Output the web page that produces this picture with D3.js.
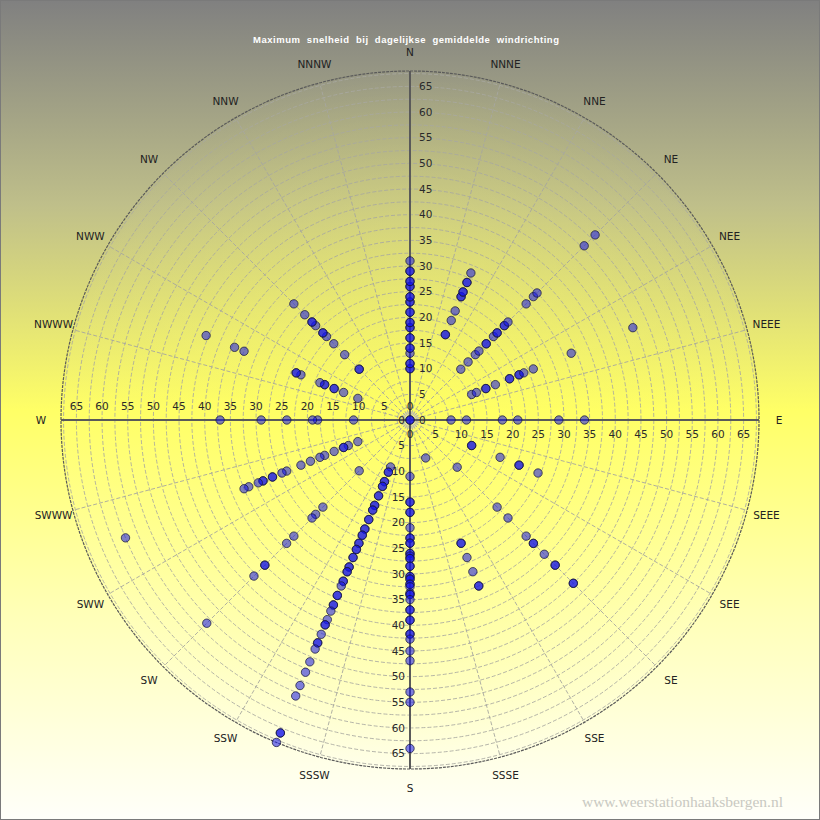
<!DOCTYPE html>
<html><head><meta charset="utf-8">
<script src="https://cdn.jsdelivr.net/npm/d3@7"></script>
<style>html,body{margin:0;padding:0;background:#fff}svg{display:block}</style>
</head><body>
<svg id="chart" width="820" height="820"></svg>
<script>
const title = "Maximum  snelheid  bij  dagelijkse  gemiddelde  windrichting";
const watermark = "www.weerstationhaaksbergen.nl";
const compassLabels = ["N","NNNE","NNE","NE","NEE","NEEE","E","SEEE","SEE","SE","SSE","SSSE","S","SSSW","SSW","SW","SWW","SWWW","W","NWWW","NWW","NW","NNW","NNNW"];
const dataDirections = ["N","NNE","NE","ENE","E","ESE","SE","SSE","S","SSW","SW","WSW","W","WNW","NW","NNW"];
const tickValues = [0,5,10,15,20,25,30,35,40,45,50,55,60,65];
const maxSpeed = 68;

const speedN   = [0, 10, 10, 11, 11, 13, 14, 14, 16, 16, 18, 18, 19, 19, 21, 21, 23, 23, 24, 24, 26, 26, 27, 27, 29, 29, 31];
const speedNNE = [18, 18, 21, 23, 26, 26, 27, 27, 29, 29, 31];
const speedNE  = [14, 16, 18, 19, 21, 21, 23, 24, 24, 26, 26, 27, 32, 34, 35, 48, 51];
const speedENE = [13, 14, 16, 16, 18, 21, 21, 23, 23, 24, 26, 34, 47];
const speedE   = [0, 8, 11, 18, 21, 29, 34];
const speedESE = [13, 13, 19, 23, 23, 27];
const speedSE  = [13, 24, 27, 32, 34, 34, 37, 40, 40, 45, 45];
const speedSSE = [8, 26, 26, 29, 32, 35, 35];
const speedS   = [11, 16, 16, 18, 18, 21, 23, 23, 24, 24, 26, 26, 26.5, 27, 27, 28.5, 28.5, 30.5, 30.5, 31, 31, 32, 32, 32.5, 33.7, 34, 34, 35, 37, 37, 39, 39, 41.7, 41.7, 42.7, 45, 46.9, 53, 55, 64];
const speedSSW = [9.9, 11, 11, 13, 13, 14, 14, 16, 16, 18, 18, 19, 19, 21, 21, 23, 23, 24.3, 24.3, 26, 26, 27.3, 27.3, 29, 29, 31, 31, 32, 32, 34, 34, 35, 37, 37, 39, 39, 40.3, 42.1, 43.2, 43.2, 45.2, 47, 47, 48.3, 51, 53.2, 56, 58.2, 66, 66, 68];
const speedSW  = [14, 24, 26, 27, 32, 34, 40, 40, 43, 56];
const speedWSW = [11, 13, 14, 14, 16, 18, 19, 21, 23, 26, 27, 29, 29, 31, 31, 32, 34, 35, 60];
const speedW   = [11, 18, 19, 24, 29, 37];
const speedWNW = [11, 14, 16, 16, 18, 18, 19, 23, 24, 24, 35, 37, 43];
const speedNW  = [14, 14, 18, 21, 23, 24, 24, 26, 27, 27, 29, 32];
const speedNNW = [];

const seriesByDirection = [speedN, speedNNE, speedNE, speedENE, speedE, speedESE, speedSE, speedSSE,
  speedS, speedSSW, speedSW, speedWSW, speedW, speedWNW, speedNW, speedNNW];

const W = 820, H = 820, cx = 410, cy = 420, R = 349;
const svg = d3.select("#chart");
const defs = svg.append("defs");
const bg = defs.append("linearGradient").attr("id","bg").attr("x1",0).attr("y1",0).attr("x2",0).attr("y2",1);
bg.append("stop").attr("offset","0%").attr("stop-color","#808080");
bg.append("stop").attr("offset","25%").attr("stop-color","#bfbf8a");
bg.append("stop").attr("offset","50%").attr("stop-color","#ffff66");
bg.append("stop").attr("offset","75%").attr("stop-color","#ffffb8");
bg.append("stop").attr("offset","100%").attr("stop-color","#fffffa");
const glow = defs.append("radialGradient").attr("id","glow");
glow.append("stop").attr("offset","0%").attr("stop-color","#ffff60").attr("stop-opacity",0.55);
glow.append("stop").attr("offset","100%").attr("stop-color","#ffff60").attr("stop-opacity",0);

svg.append("rect").attr("width",W).attr("height",H).attr("fill","url(#bg)");
svg.append("circle").attr("cx",cx).attr("cy",cy).attr("r",R).attr("fill","url(#glow)");
svg.append("rect").attr("x",0.5).attr("y",0.5).attr("width",W-1).attr("height",H-1)
  .attr("fill","none").attr("stroke","#7a7a7a").attr("stroke-width",1);

const r = d3.scaleLinear().domain([0, maxSpeed]).range([0, R]);
const rad = d => d * Math.PI / 180;
const px = (deg, v) => cx + r(v) * Math.sin(rad(deg));
const py = (deg, v) => cy - r(v) * Math.cos(rad(deg));

// concentric grid rings
const ringVals = d3.range(2.5, maxSpeed, 2.5);
svg.append("g").selectAll("circle").data(ringVals).join("circle")
  .attr("cx",cx).attr("cy",cy).attr("r",d=>r(d))
  .attr("fill","none").attr("stroke","#a8a8a0").attr("stroke-width",1).attr("stroke-dasharray","4,2").attr("opacity",0.85);

// radial spokes
const spokeAngles = compassLabels.map((d,i)=>i*15);
svg.append("g").selectAll("line").data(spokeAngles.filter(a=>a%90!==0)).join("line")
  .attr("x1",cx).attr("y1",cy).attr("x2",a=>px(a,maxSpeed)).attr("y2",a=>py(a,maxSpeed))
  .attr("stroke","#a8a8a0").attr("stroke-width",1).attr("stroke-dasharray","4,2").attr("opacity",0.9);

// faint halo at the centre
svg.append("circle").attr("cx",cx).attr("cy",cy).attr("r",9).attr("fill","#b8b8c8").attr("opacity",0.45);

// outer ring
svg.append("circle").attr("cx",cx).attr("cy",cy).attr("r",R)
  .attr("fill","none").attr("stroke","#5a5a5a").attr("stroke-width",1.2).attr("stroke-dasharray","3,1");

// main axes
svg.append("g").selectAll("line").data([0,90,180,270]).join("line")
  .attr("x1",cx).attr("y1",cy).attr("x2",a=>px(a,maxSpeed)).attr("y2",a=>py(a,maxSpeed))
  .attr("stroke","#5a5a5a").attr("stroke-width",2);

// tick labels on the four axes
const tickFont = "DejaVu Sans, Verdana, sans-serif";
const tg = svg.append("g").attr("font-family",tickFont).attr("font-size",10.5).attr("fill","#2a2a2a");
tg.selectAll("text.n").data(tickValues).join("text").attr("class","n")
  .attr("x",cx+9).attr("y",d=>cy-r(d)).attr("dy","0.35em").attr("text-anchor","start").text(d=>d);
tg.selectAll("text.e").data(tickValues).join("text").attr("class","e")
  .attr("x",d=>cx+r(d)).attr("y",cy+14).attr("dy","0.35em").attr("text-anchor","middle").text(d=>d);
tg.selectAll("text.s").data(tickValues).join("text").attr("class","s")
  .attr("x",cx-5).attr("y",d=>cy+r(d)).attr("dy","0.35em").attr("text-anchor","end").text(d=>d);
tg.selectAll("text.w").data(tickValues).join("text").attr("class","w")
  .attr("x",d=>cx-r(d)).attr("y",cy-14).attr("dy","0.35em").attr("text-anchor","middle").text(d=>d);

// compass labels
svg.append("g").attr("font-family",tickFont).attr("font-size",10.5).attr("fill","#222")
  .selectAll("text").data(compassLabels).join("text")
  .attr("x",(d,i)=>cx + (R+20)*Math.sin(rad(i*15)))
  .attr("y",(d,i)=>cy - (R+19)*Math.cos(rad(i*15)))
  .attr("dy","0.35em").attr("text-anchor","middle").text(d=>d);

// data points
const points = [];
seriesByDirection.forEach((arr,i)=>arr.forEach(v=>points.push({deg:i*22.5, v, dir:dataDirections[i]})));
svg.append("g").selectAll("circle").data(points).join("circle")
  .attr("cx",d=>px(d.deg,d.v)).attr("cy",d=>py(d.deg,d.v)).attr("r",4.2)
  .attr("fill","rgba(20,20,235,0.55)").attr("stroke","rgba(25,25,60,0.75)").attr("stroke-width",1);

// title
svg.append("text").attr("x",406).attr("y",43).attr("text-anchor","middle")
  .attr("font-family","Liberation Sans, Arial, sans-serif").attr("font-weight","bold").attr("font-size",9.5)
  .attr("fill","#ffffff").attr("textLength",306).attr("lengthAdjust","spacing").attr("xml:space","preserve")
  .style("white-space","pre").text(title);

// watermark
svg.append("text").attr("x",783).attr("y",807).attr("text-anchor","end")
  .attr("font-family","Liberation Serif, Times New Roman, serif").attr("font-size",15.5)
  .attr("fill","#c9c9c2").text(watermark);
</script>
</body></html>
